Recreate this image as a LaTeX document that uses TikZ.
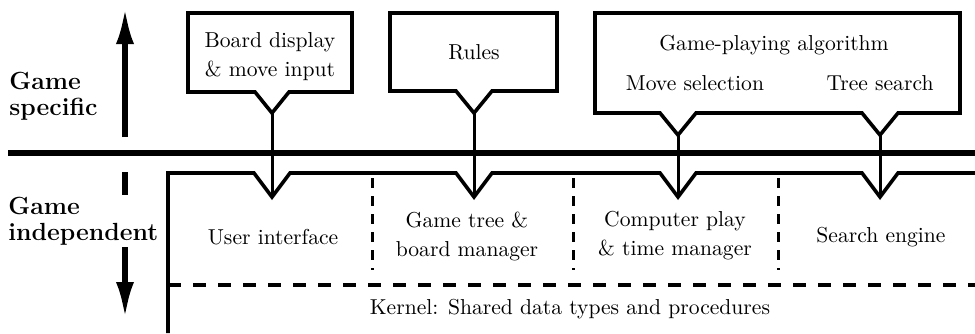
\documentclass[tikz,border=0pt]{standalone}
\usetikzlibrary{arrows.meta,positioning}

\tikzset{
	box/.style={line width=1.8pt, line join=miter},
	link/.style={line width=1.5pt},
	layer/.style={line width=1.8pt, dash pattern=on 6.5pt off 6pt},
	part/.style={line width=1.5pt, dash pattern=on 5pt off 4pt},
	lbl/.style={font=\fontsize{10.8}{14.5}\selectfont, align=center, inner sep=1pt},
	side/.style={font=\fontsize{12.4}{13}\selectfont\bfseries, align=left, inner sep=1pt, anchor=west},
	dir/.style={line width=2.6pt, -{Latex[length=18pt,width=9pt]}}
}

\begin{document}
\begin{tikzpicture}[x=0.5pt, y=-0.5pt]
		\useasboundingbox (0,0) rectangle (975,333);
		
		% Define points
		\coordinate (ta) at (272,113);
		\coordinate (tb) at (474,113);
		\coordinate (tc) at (678,135);
		\coordinate (td) at (880,135);
		\coordinate (ba) at (272,197);
		\coordinate (bb) at (474,197);
		\coordinate (bc) at (678,197);
		\coordinate (bd) at (880,197);
		\coordinate (up0) at (125,137);
		\coordinate (up1) at (125,8);
		\coordinate (dn0) at (125,172);
		\coordinate (dn1) at (125,318);
		
		% Direction arrows and side labels
		\draw[dir] (up0) -- (up1);
		\draw[dir] (dn0) -- (dn1);
		\node[side] (spec) at (7,96) {Game\\specific};
		\node[side, fill=white] (indep) at (6,221) {Game\\independent};
		
		% Boxes
		\draw[box] (188,92) -- (188,13) -- (352,13) -- (352,92) -- (289,92) -- (ta) -- (255,92) -- cycle;
		\draw[box] (390,91) -- (390,13) -- (557,13) -- (557,91) -- (492,91) -- (tb) -- (456,91) -- cycle;
		\draw[box] (595,113) -- (595,13) -- (960,13) -- (960,113) -- (898,113) -- (td) -- (862,113)
			-- (696,113) -- (tc) -- (660,113) -- cycle;
		\draw[box] (168,333) -- (168,173) -- (254,173) -- (ba) -- (290,173) -- (456,173) -- (bb) -- (492,173)
			-- (660,173) -- (bc) -- (696,173) -- (862,173) -- (bd) -- (898,173) -- (975,173);
		\draw[line width=3pt] (8,153) -- (975,153);
		\draw[layer] (168,285) -- (975,285);
		\foreach \x in {372,573,778}
			\draw[part] (\x,178) -- (\x,270);
		
		% Define nodes
		\node[lbl] (disp) at (270,57) {Board display\\\& move input};
		\node[lbl] (rules) at (474,52) {Rules};
		\node[lbl] (algo) at (774,45) {Game-playing algorithm};
		\node[lbl] (sel) at (695,83) {Move selection};
		\node[lbl] (srch) at (880,83) {Tree search};
		\node[lbl] (ui) at (273,237) {User interface};
		\node[lbl] (tree) at (467,236) {Game tree \&\\board manager};
		\node[lbl] (play) at (675,236) {Computer play\\\& time manager};
		\node[lbl] (eng) at (881,237) {Search engine};
		\node[lbl, below=6pt of {570,285}] (kern) {Kernel: Shared data types and procedures};
		
		% Connect the nodes
		\draw[link] (ta) -- (ba);
		\draw[link] (tb) -- (bb);
		\draw[link] (tc) -- (bc);
		\draw[link] (td) -- (bd);
	\end{tikzpicture}
\end{document}
